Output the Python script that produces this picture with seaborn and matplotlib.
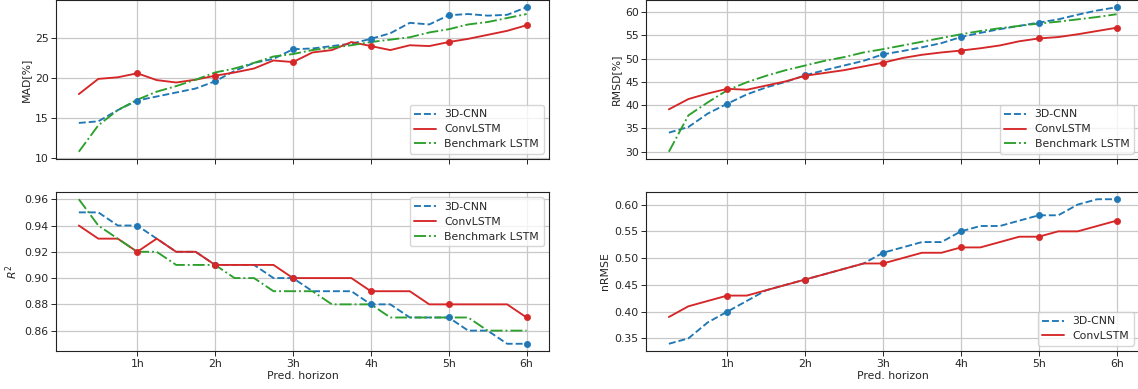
import matplotlib
matplotlib.use("Agg")
import matplotlib.pyplot as plt
import seaborn as sns
import pandas as pd

# --- data ---
horizon = [0.25, 0.5, 0.75, 1.0, 1.25, 1.5, 1.75, 2.0, 2.25, 2.5, 2.75, 3.0,
           3.25, 3.5, 3.75, 4.0, 4.25, 4.5, 4.75, 5.0, 5.25, 5.5, 5.75, 6.0]
hour_ticks = [1, 2, 3, 4, 5, 6]
hour_labels = ["1h", "2h", "3h", "4h", "5h", "6h"]

mad_cnn = [14.4, 14.6, 16.0, 17.2, 17.7, 18.2, 18.7, 19.6, 20.9, 21.9, 22.4, 23.6,
           23.7, 24.0, 24.3, 24.9, 25.6, 26.9, 26.7, 27.85, 28.0, 27.8, 27.9, 28.85]
mad_conv = [18.0, 19.9, 20.1, 20.6, 19.75, 19.45, 19.8, 20.3, 20.7, 21.2, 22.2, 22.0,
            23.2, 23.5, 24.5, 24.0, 23.5, 24.1, 24.0, 24.5, 24.9, 25.4, 25.9, 26.6]
mad_lstm = [10.8, 14.1, 16.0, 17.3, 18.3, 19.0, 19.8, 20.7, 21.2, 21.9, 22.7, 23.0,
            23.5, 23.8, 24.1, 24.5, 24.8, 25.1, 25.7, 26.1, 26.7, 27.0, 27.5, 28.0]

rmsd_cnn = [34.1, 35.3, 38.2, 40.3, 42.3, 43.8, 45.0, 46.4, 47.5, 48.5, 49.5, 50.9,
            51.6, 52.4, 53.3, 54.6, 55.5, 56.3, 57.0, 57.7, 58.4, 59.4, 60.3, 61.0]
rmsd_conv = [39.1, 41.3, 42.5, 43.5, 43.3, 44.2, 45.1, 46.3, 46.9, 47.5, 48.3, 49.1,
             50.1, 50.8, 51.3, 51.7, 52.2, 52.8, 53.7, 54.3, 54.6, 55.2, 55.9, 56.6]
rmsd_lstm = [30.0, 37.8, 40.6, 43.2, 44.9, 46.3, 47.5, 48.5, 49.5, 50.3, 51.3, 52.0,
             52.8, 53.6, 54.4, 55.2, 55.9, 56.5, 57.0, 57.5, 57.9, 58.4, 58.9, 59.5]

r2_cnn = [0.95, 0.95, 0.94, 0.94, 0.93, 0.92, 0.92, 0.91, 0.91, 0.91, 0.90, 0.90,
          0.89, 0.89, 0.89, 0.88, 0.88, 0.87, 0.87, 0.87, 0.86, 0.86, 0.85, 0.85]
r2_conv = [0.94, 0.93, 0.93, 0.92, 0.93, 0.92, 0.92, 0.91, 0.91, 0.91, 0.91, 0.90,
           0.90, 0.90, 0.90, 0.89, 0.89, 0.89, 0.88, 0.88, 0.88, 0.88, 0.88, 0.87]
r2_lstm = [0.96, 0.94, 0.93, 0.92, 0.92, 0.91, 0.91, 0.91, 0.90, 0.90, 0.89, 0.89,
           0.89, 0.88, 0.88, 0.88, 0.87, 0.87, 0.87, 0.87, 0.87, 0.86, 0.86, 0.86]

nrmse_cnn = [0.34, 0.35, 0.38, 0.40, 0.42, 0.44, 0.45, 0.46, 0.47, 0.48, 0.49, 0.51,
             0.52, 0.53, 0.53, 0.55, 0.56, 0.56, 0.57, 0.58, 0.58, 0.60, 0.61, 0.61]
nrmse_conv = [0.39, 0.41, 0.42, 0.43, 0.43, 0.44, 0.45, 0.46, 0.47, 0.48, 0.49, 0.49,
              0.50, 0.51, 0.51, 0.52, 0.52, 0.53, 0.54, 0.54, 0.55, 0.55, 0.56, 0.57]

# --- style ---
sns.set_style("ticks")
plt.rcParams['font.family'] = ['DejaVu Sans']
FS = 7.8
C_CNN, C_CONV, C_LSTM = "#1f77b4", "#d62728", "#2ca02c"
LW = 1.35

fig = plt.figure(figsize=(11.38, 3.89), dpi=100)
W, H = 0.4328, 0.4087
ax_mad = fig.add_axes([0.0496, 0.5913, W, H])
ax_rmsd = fig.add_axes([0.5681, 0.5913, W, H])
ax_r2 = fig.add_axes([0.0496, 0.0977, W, H])
ax_nrmse = fig.add_axes([0.5681, 0.0977, W, H])


def draw(ax, series, ylabel, legend_loc, bottom_row):
    for name, values, color, ls, with_markers in series:
        df = pd.DataFrame({"h": horizon, "v": values})
        sns.lineplot(data=df, x="h", y="v", ax=ax, color=color, linestyle=ls,
                     linewidth=LW, label=name)
        if with_markers:
            # dots only on the full hours
            hourly = df[df["h"].isin(hour_ticks)]
            sns.scatterplot(data=hourly, x="h", y="v", ax=ax, color=color,
                            s=20, edgecolor=color, linewidth=0.5, zorder=3)
    ax.set_xticks(hour_ticks)
    if bottom_row:
        ax.set_xticklabels(hour_labels)
        ax.set_xlabel("Pred. horizon", fontsize=FS, labelpad=2)
    else:
        ax.set_xticklabels([])
        ax.set_xlabel("")
    ax.set_ylabel(ylabel, fontsize=FS, labelpad=3)
    ax.tick_params(labelsize=FS, length=3.5, width=0.7, pad=2)
    ax.grid(True, color="#c8c8c8", linewidth=0.9)
    ax.set_axisbelow(True)
    for sp in ax.spines.values():
        sp.set_linewidth(0.8)
        sp.set_color("#222222")
    ax.margins(x=0.05, y=0.05)
    ax.legend(loc=legend_loc, fontsize=FS, frameon=True, fancybox=True,
              framealpha=0.8, edgecolor="#cccccc", borderpad=0.4,
              handlelength=2.0, labelspacing=0.45, borderaxespad=0.5)


draw(ax_mad, [("3D-CNN", mad_cnn, C_CNN, "--", True),
              ("ConvLSTM", mad_conv, C_CONV, "-", True),
              ("Benchmark LSTM", mad_lstm, C_LSTM, "-.", False)],
     "MAD[%]", "lower right", False)
ax_mad.set_yticks([10, 15, 20, 25])

draw(ax_rmsd, [("3D-CNN", rmsd_cnn, C_CNN, "--", True),
               ("ConvLSTM", rmsd_conv, C_CONV, "-", True),
               ("Benchmark LSTM", rmsd_lstm, C_LSTM, "-.", False)],
     "RMSD[%]", "lower right", False)
ax_rmsd.set_yticks([30, 35, 40, 45, 50, 55, 60])

draw(ax_r2, [("3D-CNN", r2_cnn, C_CNN, "--", True),
             ("ConvLSTM", r2_conv, C_CONV, "-", True),
             ("Benchmark LSTM", r2_lstm, C_LSTM, "-.", False)],
     "$R^2$", "upper right", True)
ax_r2.set_yticks([0.86, 0.88, 0.90, 0.92, 0.94, 0.96])
ax_r2.set_yticklabels(["0.86", "0.88", "0.90", "0.92", "0.94", "0.96"])

draw(ax_nrmse, [("3D-CNN", nrmse_cnn, C_CNN, "--", True),
                ("ConvLSTM", nrmse_conv, C_CONV, "-", True)],
     "nRMSE", "lower right", True)
ax_nrmse.set_yticks([0.35, 0.40, 0.45, 0.50, 0.55, 0.60])
ax_nrmse.set_yticklabels(["0.35", "0.40", "0.45", "0.50", "0.55", "0.60"])

fig.savefig("out.png", dpi=100)
